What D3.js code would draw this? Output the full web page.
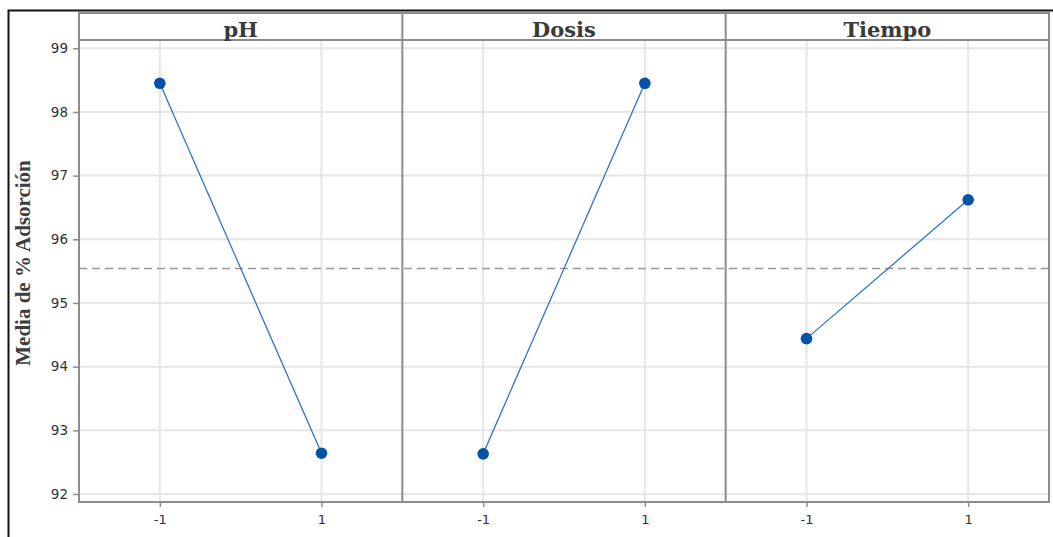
<!DOCTYPE html>
<html>
<head>
<meta charset="utf-8">
<script src="https://cdn.jsdelivr.net/npm/d3@7"></script>
<style>
  html, body { margin: 0; padding: 0; background: #fff; }
  svg { display: block; }
</style>
</head>
<body>
<svg id="chart" width="1053" height="537"></svg>
<script>
// Main effects plot for mean % adsorption
const factors = ["pH", "Dosis", "Tiempo"];
const levels = [-1, 1];
const levelLabels = ["-1", "1"];
const phMeans = [98.45, 92.64];
const dosisMeans = [92.63, 98.45];
const tiempoMeans = [94.44, 96.62];
const overallMean = 95.54;
const yTicks = [92, 93, 94, 95, 96, 97, 98, 99];
const yTitle = "Media de % Adsorción";

const seriesByFactor = [phMeans, dosisMeans, tiempoMeans];

const svg = d3.select("#chart");
const W = 1053, H = 537;

// outer frame of the figure
svg.append("path")
  .attr("d", `M8.5,${H} V10.5 H${W}`)
  .attr("fill", "none").attr("stroke", "#111").attr("stroke-width", 2);

const plotLeft = 79, plotRight = 1049, headTop = 13, plotTop = 40, plotBottom = 502;
const panelW = (plotRight - plotLeft) / factors.length;

const y = d3.scaleLinear().domain([91.874, 99.13]).range([plotBottom, plotTop]);

const gridColor = "#e6e6e6";
const frameColor = "#8c8c8c";

// horizontal gridlines across all panels
svg.append("g").selectAll("line").data(yTicks).join("line")
  .attr("x1", plotLeft).attr("x2", plotRight)
  .attr("y1", d => y(d)).attr("y2", d => y(d))
  .attr("stroke", gridColor).attr("stroke-width", 2);

const xScales = factors.map((f, i) =>
  d3.scaleLinear().domain([-2, 2]).range([plotLeft + i * panelW, plotLeft + (i + 1) * panelW]));

// vertical gridlines at each level
factors.forEach((f, i) => {
  svg.append("g").selectAll("line").data(levels).join("line")
    .attr("x1", d => xScales[i](d)).attr("x2", d => xScales[i](d))
    .attr("y1", plotTop).attr("y2", plotBottom)
    .attr("stroke", gridColor).attr("stroke-width", 2);
});

// overall mean reference line
svg.append("line")
  .attr("x1", plotLeft).attr("x2", plotRight)
  .attr("y1", y(overallMean)).attr("y2", y(overallMean))
  .attr("stroke", "#9a9a9a").attr("stroke-width", 1.5)
  .attr("stroke-dasharray", "8,5");

// y axis
const yAxis = svg.append("g")
  .attr("transform", `translate(${plotLeft},0)`)
  .call(d3.axisLeft(y).tickValues(yTicks).tickSize(6).tickPadding(5).tickFormat(d3.format("d")));
yAxis.select(".domain").remove();
yAxis.selectAll(".tick line").attr("stroke", frameColor).attr("stroke-width", 1.5);
yAxis.selectAll(".tick text")
  .attr("fill", "#333").style("font-family", "DejaVu Sans, sans-serif").style("font-size", "13.5px");

// x axes, one per panel
factors.forEach((f, i) => {
  const g = svg.append("g")
    .attr("transform", `translate(0,${plotBottom})`)
    .call(d3.axisBottom(xScales[i]).tickValues(levels).tickSize(5).tickPadding(8)
      .tickFormat((d, k) => levelLabels[k]));
  g.select(".domain").remove();
  g.selectAll(".tick line").attr("stroke", frameColor).attr("stroke-width", 1.5);
  g.selectAll(".tick text")
    .attr("fill", "#333").style("font-family", "DejaVu Sans, sans-serif").style("font-size", "13px");
});

// panel frames and header strips
svg.append("rect")
  .attr("x", plotLeft).attr("y", headTop).attr("width", plotRight - plotLeft).attr("height", plotBottom - headTop)
  .attr("fill", "none").attr("stroke", frameColor).attr("stroke-width", 2);
svg.append("line")
  .attr("x1", plotLeft).attr("x2", plotRight).attr("y1", plotTop).attr("y2", plotTop)
  .attr("stroke", frameColor).attr("stroke-width", 2);
for (let i = 1; i < factors.length; i++) {
  svg.append("line")
    .attr("x1", plotLeft + i * panelW).attr("x2", plotLeft + i * panelW)
    .attr("y1", headTop).attr("y2", plotBottom)
    .attr("stroke", frameColor).attr("stroke-width", 2);
}

svg.append("g").selectAll("text").data(factors).join("text")
  .attr("x", (d, i) => plotLeft + (i + 0.5) * panelW)
  .attr("y", 37)
  .attr("text-anchor", "middle")
  .attr("fill", "#3a3a3a")
  .style("font-family", "DejaVu Serif, serif").style("font-weight", "bold").style("font-size", "21px")
  .text(d => d);

// effect lines and points
factors.forEach((f, i) => {
  const pts = levels.map((lv, k) => ({ x: lv, y: seriesByFactor[i][k] }));
  const line = d3.line().x(d => xScales[i](d.x)).y(d => y(d.y));
  svg.append("path").datum(pts)
    .attr("d", line).attr("fill", "none")
    .attr("stroke", "#2f74c8").attr("stroke-width", 1.3);
  svg.append("g").selectAll("circle").data(pts).join("circle")
    .attr("cx", d => xScales[i](d.x)).attr("cy", d => y(d.y))
    .attr("r", 5.8).attr("fill", "#0553a8");
});

// y axis title
svg.append("text")
  .attr("transform", "translate(30,263) rotate(-90)")
  .attr("text-anchor", "middle")
  .attr("fill", "#3d3d3d")
  .style("font-family", "Liberation Serif, serif").style("font-weight", "bold").style("font-size", "21px")
  .text(yTitle);
</script>
</body>
</html>
